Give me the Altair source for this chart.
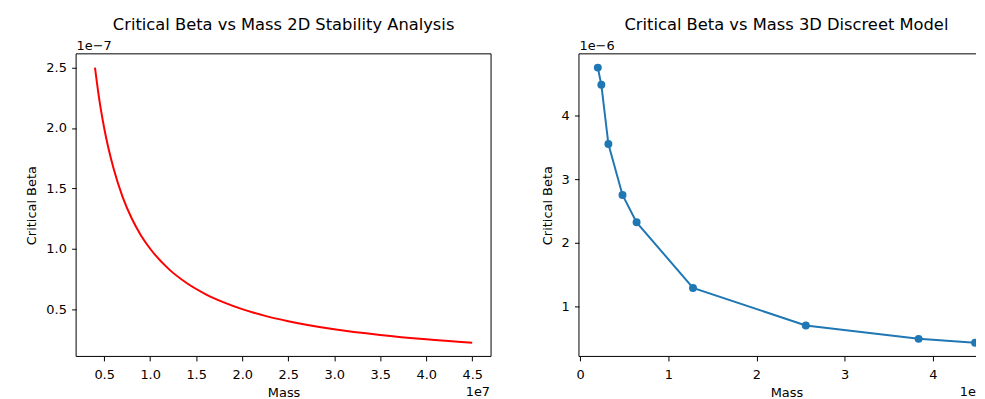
import altair as alt
import pandas as pd

# ---- data ----
mass_2d = [0.40e7, 0.45e7, 0.50e7, 0.60e7, 0.70e7, 0.80e7, 0.90e7, 1.00e7, 1.20e7, 1.40e7,
           1.60e7, 1.80e7, 2.00e7, 2.25e7, 2.50e7, 3.00e7, 3.50e7, 4.00e7, 4.50e7]
beta_2d = [2.50e-7, 2.22e-7, 2.00e-7, 1.67e-7, 1.43e-7, 1.25e-7, 1.11e-7, 1.00e-7, 0.833e-7, 0.714e-7,
           0.625e-7, 0.556e-7, 0.500e-7, 0.444e-7, 0.400e-7, 0.333e-7, 0.286e-7, 0.250e-7, 0.222e-7]

mass_3d = [0.20e7, 0.24e7, 0.32e7, 0.48e7, 0.64e7, 1.28e7, 2.56e7, 3.84e7, 4.48e7]
beta_3d = [4.75e-6, 4.48e-6, 3.55e-6, 2.75e-6, 2.32e-6, 1.29e-6, 0.70e-6, 0.49e-6, 0.43e-6]

x_ticks_2d = [0.5e7, 1.0e7, 1.5e7, 2.0e7, 2.5e7, 3.0e7, 3.5e7, 4.0e7, 4.5e7]
y_ticks_2d = [0.5e-7, 1.0e-7, 1.5e-7, 2.0e-7, 2.5e-7]
x_ticks_3d = [0, 1e7, 2e7, 3e7, 4e7]
y_ticks_3d = [1e-6, 2e-6, 3e-6, 4e-6]

titles = ["Critical Beta vs Mass 2D Stability Analysis", "Critical Beta vs Mass 3D Discreet Model"]
offset_2d = ["1e\u22127", "1e7"]
offset_3d = ["1e\u22126", "1e"]   # the right panel is cut by the window edge in the reference

FONT = "DejaVu Sans"
FS = 13
W, H = 417.3, 304.3          # full panel plot size
W3 = 399.3                   # visible part of the right panel (cut at the window edge)
PER_UNIT_3D = W / 4.708      # px per 1e7 in the right panel

df2 = pd.DataFrame({"mass": mass_2d, "beta": beta_2d})
df3 = pd.DataFrame({"mass": mass_3d, "beta": beta_3d})
one = pd.DataFrame({"k": [0]})


def xaxis(values, expr, title_x):
    return alt.Axis(values=values, labelExpr=expr, title="Mass", tickSize=4.5,
                    labelPadding=7.3, titlePadding=5, grid=False, domain=False, titleX=title_x)


def yaxis(values, expr):
    return alt.Axis(values=values, labelExpr=expr, title="Critical Beta", tickSize=4.5,
                    labelPadding=5.3, titlePadding=7, grid=False, domain=False)


def decorations(title, texts, w, full_w, right_spine):
    t = alt.Chart(pd.DataFrame({"t": [title]})).mark_text(
        align="center", baseline="alphabetic", font=FONT, fontSize=16.4, color="black"
    ).encode(x=alt.value(full_w / 2), y=alt.value(-23.7), text="t")
    top = alt.Chart(pd.DataFrame({"t": [texts[0]]})).mark_text(
        align="left", baseline="alphabetic", font=FONT, fontSize=FS, color="black"
    ).encode(x=alt.value(0.5), y=alt.value(-3.7), text="t")
    bottom = alt.Chart(pd.DataFrame({"t": [texts[1]]})).mark_text(
        align="right", baseline="alphabetic", font=FONT, fontSize=FS, color="black"
    ).encode(x=alt.value(min(full_w - 1, w)), y=alt.value(H + 39.5), text="t")
    r = alt.Chart(one).mark_rule(color="black", strokeWidth=1)
    sp = [
        r.encode(x=alt.value(0), x2=alt.value(w), y=alt.value(0)),
        r.encode(x=alt.value(0), x2=alt.value(w), y=alt.value(H)),
        r.encode(x=alt.value(0), y=alt.value(0), y2=alt.value(H)),
    ]
    if right_spine:
        sp.append(r.encode(x=alt.value(w), y=alt.value(0), y2=alt.value(H)))
    return [t, top, bottom] + sp


line2 = alt.Chart(df2).mark_line(color="red", strokeWidth=2, interpolate="monotone").encode(
    x=alt.X("mass:Q", scale=alt.Scale(domain=[0.195e7, 4.705e7], nice=False, zero=False),
            axis=xaxis(x_ticks_2d, "format(datum.value / 1e7, '.1f')", W / 2)),
    y=alt.Y("beta:Q", scale=alt.Scale(domain=[0.108e-7, 2.614e-7], nice=False, zero=False),
            axis=yaxis(y_ticks_2d, "format(datum.value / 1e-7, '.1f')")),
)
left = alt.layer(line2, *decorations(titles[0], offset_2d, W, W, True)).properties(width=W, height=H)

x3_max = -0.014e7 + W3 / PER_UNIT_3D * 1e7
line3 = alt.Chart(df3).mark_line(
    color="#1f77b4", strokeWidth=2, clip=True,
    point=alt.OverlayMarkDef(filled=True, size=64, color="#1f77b4", opacity=1, clip=True),
).encode(
    x=alt.X("mass:Q", scale=alt.Scale(domain=[-0.014e7, x3_max], nice=False, zero=False),
            axis=xaxis(x_ticks_3d, "format(datum.value / 1e7, '.0f')", W / 2)),
    y=alt.Y("beta:Q", scale=alt.Scale(domain=[0.214e-6, 4.966e-6], nice=False, zero=False),
            axis=yaxis(y_ticks_3d, "format(datum.value / 1e-6, '.0f')")),
)
right = alt.layer(line3, *decorations(titles[1], offset_3d, W3, W, False)).properties(width=W3, height=H)

chart = alt.hconcat(left, right, spacing=48.7).properties(
    padding={"left": 17.5, "top": 8, "right": 0, "bottom": 0}, background="white"
).configure_view(stroke=None).configure_axis(
    labelFont=FONT, titleFont=FONT, labelFontSize=FS, titleFontSize=FS,
    labelColor="black", titleColor="black", titleFontWeight="normal",
    tickColor="black", tickWidth=1,
)

chart.save("out.html", embed_options={"renderer": "svg", "actions": False})
